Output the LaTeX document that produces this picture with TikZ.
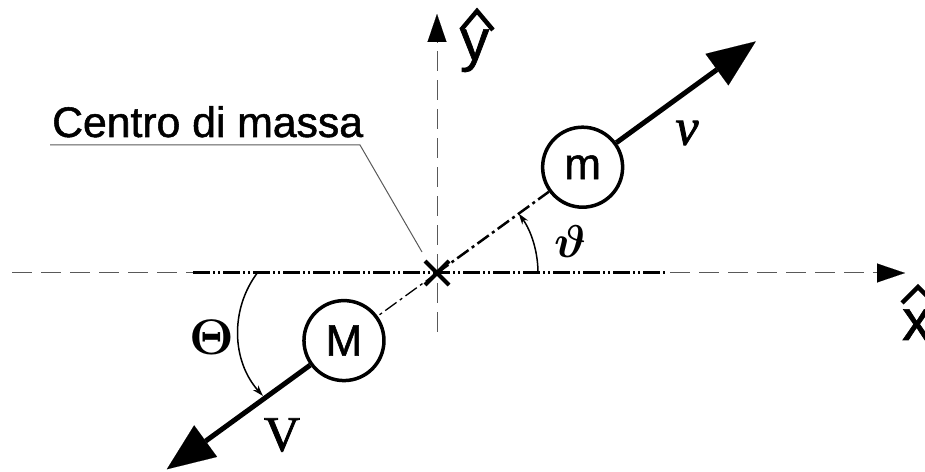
\documentclass[tikz,border=0pt]{standalone}
\usepackage{graphicx}
\usepackage{fontspec}
\setmainfont{Liberation Serif}
\setsansfont{Liberation Sans}
\newfontfamily\heavysans[FakeBold=1.2]{Liberation Sans}
\newfontfamily\heavyserif[FakeBold=1.6]{Liberation Serif}
\usetikzlibrary{arrows.meta,shapes.misc}
\begin{document}
\begin{tikzpicture}[x=1pt,y=1pt,
  thinaxis/.style={draw=black!65,line width=1pt,dash pattern=on 20pt off 9pt},
  thickaxis/.style={draw=black,line width=3pt,dash pattern=on 17pt off 3pt on 2pt off 3pt on 2pt off 3pt},
  centerline/.style={dash pattern=on 14pt off 4pt on 3pt off 4pt},
  mass/.style={circle,draw,line width=3.5pt,minimum size=80pt,inner sep=0pt,font=\heavysans\fontsize{44}{50}\selectfont},
  bigtip/.style={-{Triangle[length=48pt,width=39pt,line width=0.1pt]},line width=5pt},
  axtip/.style={-{Triangle[length=28pt,width=19pt,color=black,line width=0.1pt]}},
  angtip/.style={-{Stealth[length=11pt,width=7pt]},line width=1.5pt},
  vlab/.style={inner sep=0pt,font=\heavyserif\itshape\fontsize{52}{56}\selectfont},
  uplab/.style={inner sep=0pt,font=\heavyserif\fontsize{50}{54}\selectfont},
  axlab/.style={anchor=base west,inner sep=0pt,font=\heavysans\fontsize{58}{60}\selectfont},
  hat/.style={line width=4.5pt,miter limit=10},
  leader/.style={draw=black!65,line width=1pt}
]
\clip (0,0) rectangle (925,471);
\coordinate (c) at (437,198);
% axes
\coordinate (xa) at (12,198);
\coordinate (xb) at (193,198);
\coordinate (xc) at (665,198);
\coordinate (xd) at (670,198);
\coordinate (xe) at (905,198);
\draw[thinaxis] (xa) -- (xb);
\draw[thickaxis] (xb) -- (xc);
\draw[thinaxis,axtip] (xd) -- (xe);
\coordinate (ya) at (437,139);
\coordinate (yb) at (437,457);
\draw[thinaxis,axtip] (ya) -- (yb);
% masses
\node[mass] (m) at ([shift={(36:180)}]c) {m};
\node[mass] (M) at ([shift={(216:115)}]c) {M};
\draw[centerline,line width=2.5pt] (c) -- (m);
\draw[centerline,line width=1.3pt] (c) -- (M);
\node[cross out,draw,line width=4pt,minimum size=20pt,inner sep=0pt] (cm) at (c) {};
% velocity arrows
\coordinate (vtip) at ([shift={(36:214)}]m.center);
\coordinate (Vtip) at ([shift={(216:219)}]M.center);
\draw[bigtip] (m) -- (vtip);
\draw[bigtip] (M) -- (Vtip);
% angles
\draw[angtip] ([shift={(0:101)}]c) arc[start angle=0,end angle=36,radius=101];
\coordinate (tc) at (335,140);
\draw[angtip] ([shift={(143:97)}]tc) arc[start angle=143,end angle=222,radius=97];
% labels
\node[vlab] (vl) at (687,338) {v};
\node[uplab] (Vl) at (282,36) {V};
\node[inner sep=0pt] (th) at (570,229) {\scalebox{4.6}{\boldmath$\vartheta$}};
\node[inner sep=0pt] (Th) at (212,134) {\scalebox{5}{\boldmath$\Theta$}};
% centre of mass label
\node[anchor=base west,inner sep=0pt,font=\heavysans\fontsize{42.7}{48}\selectfont] (lbl) at (52,334) {Centro di massa};
\coordinate (ul) at (50,326);
\coordinate (ur) at (360,326);
\coordinate (lp) at (422,219);
\draw[leader] (ul) -- (ur) -- (lp);
% axis labels
\node[axlab] (yl) at (460,411) {y};
\draw[hat] (461,441) -- (477,460) -- (493,441);
\node[axlab] (xl) at (902,131) {x};
\draw[hat] (902,168) -- (918,184) -- (934,168);
\end{tikzpicture}
\end{document}
